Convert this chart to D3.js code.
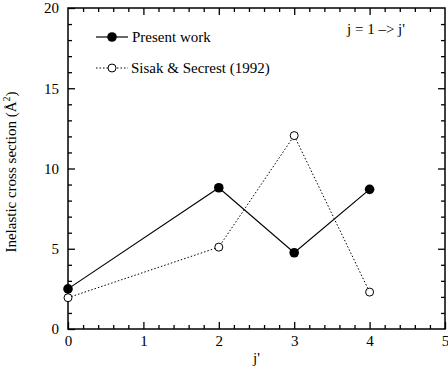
<!DOCTYPE html>
<html>
<head>
<meta charset="utf-8">
<script src="https://cdn.jsdelivr.net/npm/d3@7"></script>
<style>
  body { margin: 0; background: #fff; }
</style>
</head>
<body>
<div id="chart"></div>
<script>
// data
var jPresent = [0, 2, 3, 4];
var present = [2.5, 8.8, 4.75, 8.7];
var jSisak = [0, 2, 3, 4];
var sisak = [1.95, 5.1, 12.05, 2.3];
var xTicks = [0, 1, 2, 3, 4, 5];
var yTicks = [0, 5, 10, 15, 20];

var FONT = "'Liberation Serif', 'Times New Roman', Times, serif";

var W = 448, H = 371;
var margin = {top: 8, right: 3, bottom: 42, left: 68};
var width = W - margin.left - margin.right,
    height = H - margin.top - margin.bottom;

var svg = d3.select("#chart").append("svg")
  .attr("width", W).attr("height", H)
  .attr("font-family", FONT);
var g = svg.append("g")
  .attr("transform", "translate(" + margin.left + "," + margin.top + ")");

var x = d3.scaleLinear().domain([0, 5]).range([0, width]);
var y = d3.scaleLinear().domain([0, 20]).range([height, 0]);

var xMinor = d3.range(0, 5.001, 0.2).filter(function(v) { return Math.abs(v - Math.round(v)) > 1e-6; });
var yMinor = d3.range(0, 20.001, 1).filter(function(v) { return v % 5 !== 0; });

function axisStyle(sel) {
  sel.attr("font-family", FONT).attr("font-size", 15);
  sel.select(".domain").remove();
  sel.selectAll("line").attr("stroke", "#000").attr("stroke-width", 1.3);
  sel.selectAll("text").attr("fill", "#000");
}

// bottom
g.append("g").attr("transform", "translate(0," + height + ")")
  .call(d3.axisBottom(x).tickValues(xTicks).tickSize(-7).tickPadding(6).tickFormat(d3.format("d")))
  .call(axisStyle);
g.append("g").attr("transform", "translate(0," + height + ")")
  .call(d3.axisBottom(x).tickValues(xMinor).tickSize(-4).tickFormat(""))
  .call(axisStyle);
// top
g.append("g")
  .call(d3.axisTop(x).tickValues(xTicks.slice(1, -1)).tickSize(-7).tickFormat(""))
  .call(axisStyle);
g.append("g")
  .call(d3.axisTop(x).tickValues(xMinor).tickSize(-4).tickFormat(""))
  .call(axisStyle);
// left
g.append("g")
  .call(d3.axisLeft(y).tickValues(yTicks).tickSize(-7).tickPadding(9).tickFormat(d3.format("d")))
  .call(axisStyle);
g.append("g")
  .call(d3.axisLeft(y).tickValues(yMinor).tickSize(-4).tickFormat(""))
  .call(axisStyle);
// right
g.append("g").attr("transform", "translate(" + width + ",0)")
  .call(d3.axisRight(y).tickValues(yTicks.slice(1, -1)).tickSize(-7).tickFormat(""))
  .call(axisStyle);
g.append("g").attr("transform", "translate(" + width + ",0)")
  .call(d3.axisRight(y).tickValues(yMinor).tickSize(-4).tickFormat(""))
  .call(axisStyle);

// frame
g.append("rect").attr("width", width).attr("height", height)
  .attr("fill", "none").attr("stroke", "#000").attr("stroke-width", 1.5);

var line = d3.line().x(function(d) { return x(d[0]); }).y(function(d) { return y(d[1]); });
var pData = d3.zip(jPresent, present);
var sData = d3.zip(jSisak, sisak);

g.append("path").datum(sData).attr("d", line)
  .attr("fill", "none").attr("stroke", "#000").attr("stroke-width", 1)
  .attr("stroke-dasharray", "1.5,2");
g.append("path").datum(pData).attr("d", line)
  .attr("fill", "none").attr("stroke", "#000").attr("stroke-width", 1.2);

g.selectAll(".ps").data(pData).join("circle")
  .attr("cx", function(d) { return x(d[0]); }).attr("cy", function(d) { return y(d[1]); })
  .attr("r", 4.8).attr("fill", "#000");
g.selectAll(".ss").data(sData).join("circle")
  .attr("cx", function(d) { return x(d[0]); }).attr("cy", function(d) { return y(d[1]); })
  .attr("r", 4).attr("fill", "#fff").attr("stroke", "#000").attr("stroke-width", 1);

// legend
var leg = svg.append("g").attr("font-size", 15);
leg.append("line").attr("x1", 96).attr("x2", 128).attr("y1", 37).attr("y2", 37)
  .attr("stroke", "#000").attr("stroke-width", 1.2);
leg.append("circle").attr("cx", 112).attr("cy", 37).attr("r", 4.8).attr("fill", "#000");
leg.append("text").attr("x", 132).attr("y", 42).text("Present work");
leg.append("line").attr("x1", 96).attr("x2", 128).attr("y1", 68).attr("y2", 68)
  .attr("stroke", "#000").attr("stroke-width", 1).attr("stroke-dasharray", "1.5,2");
leg.append("circle").attr("cx", 112).attr("cy", 68).attr("r", 4).attr("fill", "#fff")
  .attr("stroke", "#000").attr("stroke-width", 1);
leg.append("text").attr("x", 131).attr("y", 73).text("Sisak & Secrest (1992)");

svg.append("text").attr("x", 347).attr("y", 34).attr("font-size", 15).text("j = 1 \u2013> j'");

// axis titles
svg.append("text").attr("x", margin.left + x(2.5)).attr("y", 363)
  .attr("text-anchor", "middle").attr("font-size", 15).text("j'");
var yl = svg.append("text")
  .attr("transform", "translate(16,172) rotate(-90)")
  .attr("text-anchor", "middle").attr("font-size", 15);
yl.append("tspan").text("Inelastic cross section (\u00C5");
yl.append("tspan").attr("dy", -6).attr("font-size", 10).text("2");
yl.append("tspan").attr("dy", 6).text(")");
</script>
</body>
</html>
